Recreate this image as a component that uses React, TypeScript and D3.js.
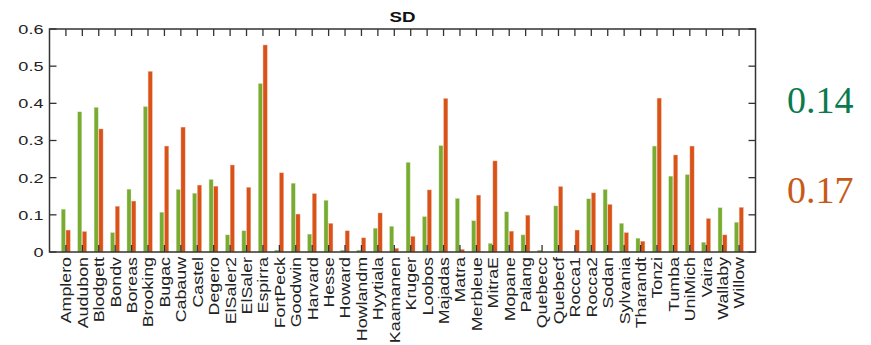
import React from "react";
import * as d3 from "d3";

const sites = ["Amplero","Audubon","Blodgett","Bondv","Boreas","Brooking","Bugac","Cabauw","Castel","Degero","ElSaler2","ElSaler","Espirra","FortPeck","Goodwin","Harvard","Hesse","Howard","Howlandm","Hyytiala","Kaamanen","Kruger","Loobos","Majadas","Matra","Merbleue","MitraE","Mopane","Palang","Quebecc","Quebecf","Rocca1","Rocca2","Sodan","Sylvania","Tharandt","Tonzi","Tumba","UniMich","Vaira","Wallaby","Willow"];
const greenValues = [0.115,0.377,0.389,0.052,0.169,0.391,0.107,0.168,0.158,0.195,0.046,0.057,0.453,0.005,0.185,0.048,0.139,0.005,0.005,0.064,0.069,0.241,0.095,0.286,0.144,0.084,0.023,0.108,0.046,0.005,0.124,0.0,0.143,0.168,0.077,0.037,0.285,0.204,0.208,0.026,0.119,0.08];
const redValues = [0.059,0.055,0.331,0.123,0.137,0.486,0.285,0.336,0.18,0.177,0.234,0.174,0.557,0.213,0.102,0.157,0.077,0.057,0.038,0.105,0.01,0.042,0.167,0.413,0.007,0.153,0.245,0.056,0.099,0.0,0.176,0.059,0.159,0.128,0.052,0.029,0.414,0.261,0.285,0.09,0.046,0.12];
const yTicks = [0, 0.1, 0.2, 0.3, 0.4, 0.5, 0.6];
const title = "SD";
const sideLabels = ["0.14", "0.17"];

const W = 871, H = 345;
const left = 49.5, right = 755.5, top = 29, bottom = 252;
const GREEN = "#77AC30", RED = "#D95319";
const AXIS = "#333333";
const SANS = "'Liberation Sans', Arial, Helvetica, sans-serif";
const SERIF = "'Liberation Serif', 'Times New Roman', serif";

export default function App() {
  const x = d3.scaleLinear().domain([0, sites.length + 1]).range([left, right]);
  const y = d3.scaleLinear().domain([0, 0.6]).range([bottom, top]);
  const tl = 7;
  return (
    <svg width={W} height={H} style={{ position: "absolute", left: 0, top: 0, background: "#fff" }}>
      {sites.map((s, i) => {
        const cx = x(i + 1);
        const g = greenValues[i], r = redValues[i];
        return (
          <g key={s}>
            {g > 0 && <rect x={cx - 4.6} width={4} y={y(g)} height={y(0) - y(g)} fill={GREEN} stroke="#c8dcae" strokeWidth={0.4} />}
            {r > 0 && <rect x={cx + 0.1} width={4.2} y={y(r)} height={y(0) - y(r)} fill={RED} stroke="#f0b8a0" strokeWidth={0.4} />}
          </g>
        );
      })}
      {sites.map((s, i) => {
        const cx = x(i + 1);
        return (
          <g key={"t" + s} stroke={AXIS} strokeWidth={1.3}>
            <line x1={cx} x2={cx} y1={bottom} y2={bottom - tl} />
            <line x1={cx} x2={cx} y1={top} y2={top + tl} />
          </g>
        );
      })}
      {yTicks.map((v) => (
        <g key={"y" + v} stroke={AXIS} strokeWidth={1.3}>
          <line x1={left} x2={left + tl} y1={y(v)} y2={y(v)} />
          <line x1={right} x2={right - tl} y1={y(v)} y2={y(v)} />
        </g>
      ))}
      <rect x={left} y={top} width={right - left} height={bottom - top} fill="none" stroke={AXIS} strokeWidth={1.5} />
      {yTicks.map((v) => (
        <text key={"yl" + v} transform={`translate(43.5,${y(v) + 4.9}) scale(1.33,1)`} textAnchor="end"
          fontFamily={SANS} fontSize={13.6} fill="#222">{String(v)}</text>
      ))}
      {sites.map((s, i) => (
        <text key={"xl" + s} transform={`translate(${x(i + 1) + 5.4},${257}) rotate(-90) scale(1.15,1)`} textAnchor="end"
          fontFamily={SANS} fontSize={15.5} fill="#222">{s}</text>
      ))}
      <text transform={`translate(${(left + right) / 2},22.3) scale(1.25,1)`} textAnchor="middle" fontFamily={SANS}
        fontWeight="bold" fontSize={15} fill="#111">{title}</text>
      <text x={787} y={113} fontFamily={SERIF} fontSize={38} fill="#0a7a4f">{sideLabels[0]}</text>
      <text x={787} y={203} fontFamily={SERIF} fontSize={38} fill="#c85a19">{sideLabels[1]}</text>
    </svg>
  );
}
